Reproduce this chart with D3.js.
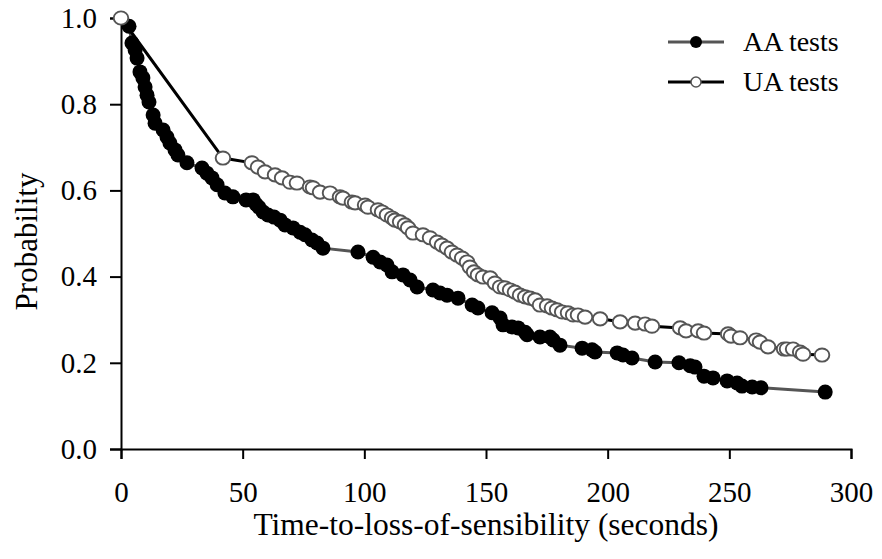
<!DOCTYPE html>
<html>
<head>
<meta charset="utf-8">
<script src="https://cdn.jsdelivr.net/npm/d3@7"></script>
<style>
  body { margin: 0; background: #fff; }
  text { font-family: "Liberation Serif", "Times New Roman", serif; fill: #000; }
</style>
</head>
<body>
<div id="chart"></div>
<script>
// values
var aaTime = [3.3, 4.5, 5.8, 6.6, 7.8, 9.0, 9.9, 10.7, 11.5, 13.2, 14.0, 17.3, 18.9, 20.1, 22.2, 23.4,
  27.1, 33.3, 35.3, 37.4, 39.5, 42.7, 46.0, 51.4, 54.3, 55.5, 56.7, 58.4, 60.4, 62.9, 65.4, 67.4,
  70.7, 73.6, 75.6, 78.5, 80.6, 83.0, 97.4, 103.6, 106.5, 109.3, 111.4, 115.9, 118.8, 121.7, 128.2,
  131.1, 134.0, 138.5, 144.3, 146.7, 152.5, 155.8, 157.0, 160.7, 163.2, 166.1, 166.9, 172.2, 176.3,
  177.6, 180.4, 189.5, 193.6, 194.8, 203.9, 206.3, 210.0, 219.5, 229.3, 233.9, 235.9, 239.6, 243.3,
  249.1, 253.2, 255.2, 259.4, 263.0, 289.4];
var aaProb = [0.981, 0.942, 0.926, 0.907, 0.875, 0.861, 0.840, 0.821, 0.805, 0.775, 0.756, 0.740, 0.724,
  0.710, 0.694, 0.682, 0.664, 0.652, 0.640, 0.629, 0.613, 0.594, 0.585, 0.578, 0.578, 0.568, 0.561,
  0.550, 0.543, 0.538, 0.531, 0.520, 0.513, 0.503, 0.497, 0.485, 0.478, 0.466, 0.457, 0.445, 0.434,
  0.427, 0.411, 0.404, 0.392, 0.376, 0.369, 0.362, 0.357, 0.350, 0.334, 0.327, 0.316, 0.304, 0.288,
  0.283, 0.281, 0.271, 0.265, 0.260, 0.260, 0.253, 0.241, 0.234, 0.230, 0.225, 0.223, 0.218, 0.211,
  0.202, 0.200, 0.193, 0.190, 0.169, 0.165, 0.158, 0.153, 0.146, 0.144, 0.142, 0.132];

var uaTime = [0, 41.9, 53.8, 56.3, 59.2, 63.3, 66.2, 69.5, 72.3, 77.7, 78.9, 81.8, 85.9, 90.0, 91.2,
  94.9, 96.2, 100.3, 101.5, 105.6, 107.3, 109.3, 111.4, 112.6, 114.7, 116.7, 118.0, 120.0, 124.1,
  127.0, 129.9, 131.9, 134.0, 136.0, 138.1, 140.2, 142.2, 143.4, 145.1, 146.7, 148.8, 151.7, 153.7,
  155.8, 157.8, 159.9, 161.9, 164.0, 166.1, 168.1, 170.2, 172.2, 175.1, 177.1, 179.2, 181.3, 183.7,
  185.8, 187.8, 190.7, 196.9, 205.1, 211.3, 215.4, 218.2, 229.8, 232.2, 237.2, 239.6, 249.5, 250.7,
  254.4, 261.0, 262.6, 265.9, 272.5, 273.7, 276.2, 279.1, 280.3, 288.1];
var uaProb = [1.0, 0.675, 0.664, 0.654, 0.643, 0.636, 0.629, 0.619, 0.617, 0.608, 0.606, 0.596, 0.594,
  0.585, 0.582, 0.573, 0.571, 0.566, 0.561, 0.555, 0.550, 0.543, 0.536, 0.531, 0.527, 0.520, 0.513,
  0.501, 0.497, 0.490, 0.480, 0.473, 0.466, 0.457, 0.450, 0.443, 0.434, 0.422, 0.411, 0.404, 0.399,
  0.397, 0.385, 0.376, 0.374, 0.369, 0.364, 0.357, 0.353, 0.350, 0.346, 0.334, 0.332, 0.327, 0.323,
  0.318, 0.316, 0.311, 0.311, 0.306, 0.302, 0.295, 0.292, 0.290, 0.285, 0.281, 0.274, 0.274, 0.269,
  0.267, 0.262, 0.258, 0.253, 0.248, 0.237, 0.232, 0.232, 0.232, 0.225, 0.220, 0.218];

var xTicks = [0, 50, 100, 150, 200, 250, 300];
var yTicks = [0, 0.2, 0.4, 0.6, 0.8, 1.0];
var seriesNames = ["AA tests", "UA tests"];

var W = 882, H = 559;
var margin = {top: 18, right: 31, bottom: 110, left: 121};
var width = W - margin.left - margin.right;
var height = H - margin.top - margin.bottom;

var svg = d3.select("#chart").append("svg")
    .attr("width", W)
    .attr("height", H);
var g = svg.append("g")
    .attr("transform", "translate(" + margin.left + "," + margin.top + ")");

var x = d3.scaleLinear().domain([0, 300]).range([0, width]);
var y = d3.scaleLinear().domain([0, 1]).range([height, 0]);

var aa = aaTime.map(function(t, i) { return {t: t, p: aaProb[i]}; });
var ua = uaTime.map(function(t, i) { return {t: t, p: uaProb[i]}; });

// axes
var xAxis = g.append("g")
    .attr("transform", "translate(0," + height + ")")
    .call(d3.axisBottom(x).tickValues(xTicks).tickSize(10).tickPadding(22).tickFormat(d3.format("d")));
var yAxis = g.append("g")
    .call(d3.axisLeft(y).tickValues(yTicks).tickSize(11).tickPadding(13).tickFormat(d3.format(".1f")));
[xAxis, yAxis].forEach(function(a) {
  a.select(".domain").attr("stroke", "#000").attr("stroke-width", 2);
  a.selectAll(".tick line").attr("stroke", "#000").attr("stroke-width", 2);
  a.selectAll(".tick text").style("font-size", "29px").attr("fill", "#000");
});

var line = d3.line().x(function(d) { return x(d.t); }).y(function(d) { return y(d.p); });

// AA series
g.append("path").datum(aa)
    .attr("fill", "none").attr("stroke", "#555").attr("stroke-width", 3)
    .attr("d", line);
g.selectAll(".aa").data(aa).enter().append("circle")
    .attr("class", "aa")
    .attr("cx", function(d) { return x(d.t); })
    .attr("cy", function(d) { return y(d.p); })
    .attr("r", 7.5)
    .attr("fill", "#000");

// UA series
g.append("path").datum(ua)
    .attr("fill", "none").attr("stroke", "#000").attr("stroke-width", 3)
    .attr("d", line);
g.selectAll(".ua").data(ua).enter().append("ellipse")
    .attr("class", "ua")
    .attr("cx", function(d) { return x(d.t); })
    .attr("cy", function(d) { return y(d.p); })
    .attr("rx", 7.3)
    .attr("ry", 6.6)
    .attr("fill", "#fff")
    .attr("stroke", "#555")
    .attr("stroke-width", 1.9);

// axis titles
svg.append("text")
    .attr("x", margin.left + width / 2)
    .attr("y", 535)
    .attr("text-anchor", "middle")
    .style("font-size", "31.5px")
    .text("Time-to-loss-of-sensibility (seconds)");
svg.append("text")
    .attr("transform", "translate(37," + (margin.top + height / 2 + 8) + ") rotate(-90)")
    .attr("text-anchor", "middle")
    .style("font-size", "31px")
    .text("Probability");

// legend
var legend = svg.append("g").attr("transform", "translate(668,42)");
seriesNames.forEach(function(name, i) {
  var row = legend.append("g").attr("transform", "translate(0," + (i * 40) + ")");
  row.append("line").attr("x1", 0).attr("x2", 56).attr("y1", 0).attr("y2", 0)
      .attr("stroke", i === 0 ? "#555" : "#000").attr("stroke-width", 3);
  row.append("circle").attr("cx", 28).attr("cy", 0).attr("r", i === 0 ? 6 : 5)
      .attr("fill", i === 0 ? "#000" : "#fff")
      .attr("stroke", i === 0 ? "none" : "#555").attr("stroke-width", 1.5);
  row.append("text").attr("x", 75).attr("y", 0).attr("dy", "0.33em")
      .style("font-size", "28px").text(name);
});
</script>
</body>
</html>
